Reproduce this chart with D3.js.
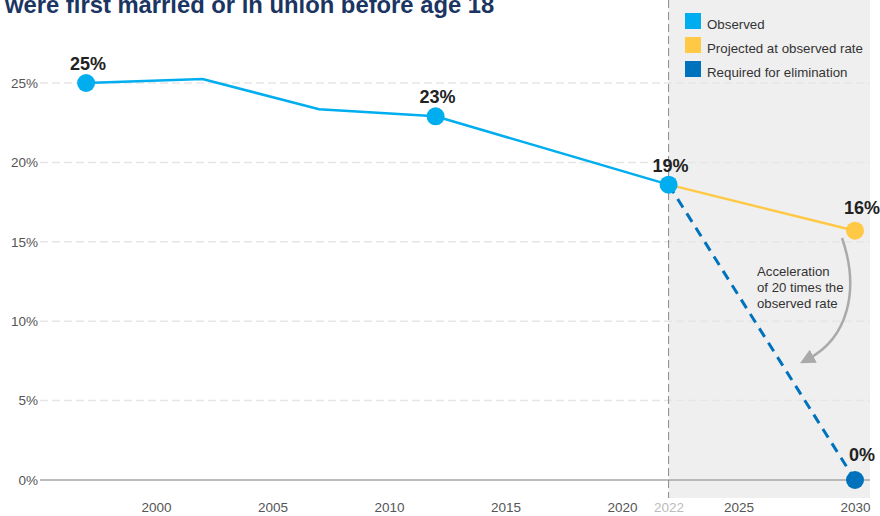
<!DOCTYPE html>
<html><head><meta charset="utf-8">
<script src="https://cdn.jsdelivr.net/npm/d3@7"></script>
<style>body{margin:0;background:#fff;font-family:"Liberation Sans",Arial,sans-serif;}</style>
</head><body>
<svg id="chart" width="880" height="516"></svg>
<script>
const observedYears = [1997, 2002, 2007, 2012, 2022];
const observedValues = [25.0, 25.25, 23.35, 22.9, 18.6];
const projectedYears = [2022, 2030];
const projectedValues = [18.6, 15.7];
const requiredYears = [2022, 2030];
const requiredValues = [18.6, 0];
const labelPoints = [
  {year: 1997, value: 25.0, label: "25%", series: "obs"},
  {year: 2012, value: 22.9, label: "23%", series: "obs"},
  {year: 2022, value: 18.6, label: "19%", series: "obs"},
  {year: 2030, value: 15.7, label: "16%", series: "proj"},
  {year: 2030, value: 0, label: "0%", series: "req"}
];
const yTicks = [0, 5, 10, 15, 20, 25];
const xTicks = [2000, 2005, 2010, 2015, 2020, 2022, 2025, 2030];
const legendItems = ["Observed", "Projected at observed rate", "Required for elimination"];
const colors = {obs: "#00aeef", proj: "#ffc845", req: "#0072bc"};
const legendColors = ["#00aeef", "#ffc845", "#0072bc"];
const titleText = "were first married or in union before age 18";
const annotationLines = ["Acceleration", "of 20 times the", "observed rate"];

const svg = d3.select("#chart");
const x = d3.scaleLinear().domain([2000, 2030]).range([156, 855]);
const y = d3.scaleLinear().domain([0, 25]).range([480, 83]);
const left = 40, right = 870;

// shaded projection area
svg.append("rect").attr("x", x(2022)).attr("y", 0)
  .attr("width", right - x(2022)).attr("height", 498).attr("fill", "#efefef");

// title (cut at top edge, as in the source)
svg.append("text").attr("x", 5).attr("y", 13).text(titleText)
  .attr("font-size", 23.8).attr("font-weight", "bold").attr("fill", "#1b3563");

// gridlines
svg.append("g").selectAll("line").data(yTicks.filter(d => d > 0)).join("line")
  .attr("x1", left).attr("x2", right).attr("y1", d => y(d)).attr("y2", d => y(d))
  .attr("stroke", "#e6e6e6").attr("stroke-width", 1.5).attr("stroke-dasharray", "8,4");

// baseline
svg.append("line").attr("x1", left).attr("x2", right).attr("y1", y(0)).attr("y2", y(0))
  .attr("stroke", "#a6a6a6").attr("stroke-width", 1.5);

// y axis labels
const yAxis = d3.axisLeft(y).tickValues(yTicks).tickFormat(d => d + "%").tickSize(0).tickPadding(0);
const gy = svg.append("g").attr("transform", `translate(38,0)`).call(yAxis);
gy.select(".domain").remove();
gy.selectAll("text").attr("font-size", 13.5).attr("fill", "#555").attr("font-family", "Liberation Sans, Arial, sans-serif");

// x axis labels
const xAxis = d3.axisBottom(x).tickValues(xTicks).tickFormat(d3.format("d")).tickSize(0).tickPadding(0);
const gx = svg.append("g").attr("transform", `translate(0,502)`).call(xAxis);
gx.select(".domain").remove();
gx.selectAll("text").attr("font-size", 13.5).attr("fill", d => d === 2022 ? "#bbbbbb" : "#555")
  .attr("font-family", "Liberation Sans, Arial, sans-serif");

// vertical dashed line at 2022
svg.append("line").attr("x1", x(2022)).attr("x2", x(2022)).attr("y1", 0).attr("y2", 498)
  .attr("stroke", "#888").attr("stroke-width", 1).attr("stroke-dasharray", "8,4");

// legend
const lg = svg.append("g").selectAll("g").data(legendItems).join("g")
  .attr("transform", (d, i) => `translate(685,${13 + i * 24})`);
lg.append("rect").attr("width", 16).attr("height", 16).attr("fill", (d, i) => legendColors[i]);
lg.append("text").attr("x", 22).attr("y", 16).text(d => d)
  .attr("font-size", 13.3).attr("fill", "#333");

const line = d3.line().x(d => x(d[0])).y(d => y(d[1]));

// required dashed
svg.append("path").datum(requiredYears.map((d, i) => [d, requiredValues[i]]))
  .attr("d", line).attr("fill", "none").attr("stroke", colors.req)
  .attr("stroke-width", 3).attr("stroke-dasharray", "10,7");
// projected
svg.append("path").datum(projectedYears.map((d, i) => [d, projectedValues[i]]))
  .attr("d", line).attr("fill", "none").attr("stroke", colors.proj).attr("stroke-width", 2.5);
// observed
svg.append("path").datum(observedYears.map((d, i) => [d, observedValues[i]]))
  .attr("d", line).attr("fill", "none").attr("stroke", colors.obs).attr("stroke-width", 2.5);

// points
svg.append("g").selectAll("circle").data(labelPoints).join("circle")
  .attr("cx", d => x(d.year)).attr("cy", d => y(d.value)).attr("r", 9)
  .attr("fill", d => colors[d.series]);

// labels
svg.append("g").selectAll("text").data(labelPoints).join("text")
  .attr("x", d => x(d.year) + (d.series === "obs" ? 2 : 7))
  .attr("y", d => y(d.value) - (d.series === "req" ? 19 : (d.series === "proj" ? 17 : 13)))
  .attr("text-anchor", "middle").text(d => d.label)
  .attr("font-size", 18).attr("font-weight", "bold").attr("fill", "#222");

// annotation
const ann = svg.append("text").attr("x", 757).attr("y", 276).attr("font-size", 13.2).attr("fill", "#333");
annotationLines.forEach((t, i) => ann.append("tspan").attr("x", 757).attr("dy", i === 0 ? 0 : 16).text(t));

svg.append("defs").append("marker").attr("id", "ah").attr("viewBox", "0 0 10 10")
  .attr("refX", 4).attr("refY", 5).attr("markerWidth", 6).attr("markerHeight", 6)
  .attr("orient", "auto").append("path").attr("d", "M0,0 L10,5 L0,10 z").attr("fill", "#aaa");
svg.append("path").attr("d", "M842,238 C860,290 848,338 808,359")
  .attr("fill", "none").attr("stroke", "#aaa").attr("stroke-width", 2.5).attr("marker-end", "url(#ah)");
</script>
</body></html>
